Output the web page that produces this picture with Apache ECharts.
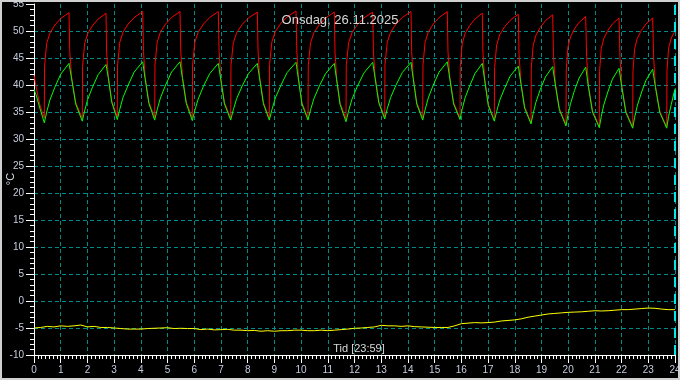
<!DOCTYPE html>
<html>
<head>
<meta charset="utf-8">
<style>
html,body{margin:0;padding:0;background:#000;}
#chart{width:680px;height:380px;}
</style>
<script src="https://cdn.jsdelivr.net/npm/echarts@6/dist/echarts.min.js"></script>
</head>
<body>
<div id="chart"></div>
<script>
// Tick labels / axis config values
var xTickLabels = [0,1,2,3,4,5,6,7,8,9,10,11,12,13,14,15,16,17,18,19,20,21,22,23,24];
var titleText = 'Onsdag, 26.11.2025';
var xName = 'Tid [23:59]';
var yName = '°C';

// Red series (supply temperature), [hour, °C]
var redTemp = [
[0,41.8],[0.1,39.1],[0.22,36.3],[0.386,33.9],
[0.396,43.5],[0.475,47.7],[0.594,49.6],[0.782,51.1],[1.0,52.3],[1.31,53.4],
[1.34,46.0],[1.41,41.4],[1.56,36.8],[1.808,33.8],
[1.818,43.4],[1.894,47.6],[2.008,49.5],[2.19,51.0],[2.4,52.2],[2.696,53.3],
[2.72,45.9],[2.78,41.7],[2.91,37.1],[3.119,34.1],
[3.129,43.7],[3.211,47.9],[3.333,49.8],[3.527,51.3],[3.751,52.5],[4.07,53.6],
[4.1,46.2],[4.16,41.5],[4.3,36.9],[4.519,33.9],
[4.529,43.7],[4.611,47.9],[4.733,49.8],[4.927,51.3],[5.151,52.5],[5.467,53.6],
[5.495,46.2],[5.56,41.5],[5.7,36.9],[5.927,33.9],
[5.937,43.7],[6.022,47.9],[6.148,49.8],[6.347,51.3],[6.578,52.5],[6.901,53.6],
[6.93,46.2],[6.99,41.4],[7.13,36.8],[7.365,33.8],
[7.375,43.6],[7.461,47.8],[7.59,49.7],[7.793,51.2],[8.028,52.4],[8.361,53.5],
[8.39,46.1],[8.45,41.4],[8.59,36.8],[8.81,33.8],
[8.82,43.8],[8.907,48.0],[9.036,49.9],[9.24,51.4],[9.477,52.6],[9.81,53.7],
[9.84,46.3],[9.9,41.4],[10.03,36.8],[10.259,33.8],
[10.269,43.6],[10.354,47.8],[10.482,49.7],[10.683,51.2],[10.916,52.4],[11.244,53.5],
[11.27,46.1],[11.33,41.3],[11.46,36.7],[11.682,33.7],
[11.692,43.6],[11.779,47.8],[11.908,49.7],[12.112,51.2],[12.349,52.4],[12.682,53.5],
[12.71,46.1],[12.77,41.6],[12.91,37.0],[13.131,34.0],
[13.141,43.7],[13.226,47.9],[13.354,49.8],[13.555,51.3],[13.788,52.5],[14.116,53.6],
[14.14,46.2],[14.2,41.4],[14.33,36.8],[14.554,33.8],
[14.564,43.7],[14.643,47.9],[14.762,49.8],[14.95,51.3],[15.168,52.5],[15.475,53.6],
[15.5,46.2],[15.57,41.4],[15.71,36.8],[15.95,33.8],
[15.96,43.4],[16.031,47.6],[16.139,49.5],[16.31,51.0],[16.508,52.2],[16.785,53.3],
[16.81,45.9],[16.875,41.1],[17.01,36.5],[17.235,33.5],
[17.245,43.2],[17.322,47.4],[17.438,49.3],[17.621,50.8],[17.834,52.0],[18.133,53.1],
[18.16,45.7],[18.23,40.6],[18.37,36.0],[18.609,33.0],
[18.619,43.1],[18.688,47.3],[18.792,49.2],[18.958,50.7],[19.15,51.9],[19.421,53.0],
[19.45,45.6],[19.52,40.3],[19.67,35.7],[19.919,32.7],
[19.929,42.8],[19.99,47.0],[20.086,48.9],[20.237,50.4],[20.411,51.6],[20.657,52.7],
[20.69,45.3],[20.76,39.9],[20.91,35.3],[21.166,32.3],
[21.176,42.5],[21.237,46.7],[21.333,48.6],[21.484,50.1],[21.658,51.3],[21.904,52.4],
[21.94,45.0],[22.01,39.8],[22.16,35.2],[22.416,32.2],
[22.426,42.5],[22.488,46.7],[22.585,48.6],[22.738,50.1],[22.915,51.3],[23.165,52.4],
[23.2,45.0],[23.27,39.8],[23.43,35.2],[23.69,32.2],
[23.7,42.6],[23.76,46.8],[23.86,48.7],[24,50.0]
];

// Green series (return temperature), [hour, °C]
var greenTemp = [
[0,39.2],[0.1,37.8],[0.22,35.7],[0.386,33.0],
[0.475,35.0],[0.594,37.2],[0.782,39.6],[1.0,42.0],[1.31,44.0],
[1.41,41.1],[1.56,36.5],[1.808,33.3],
[1.894,35.2],[2.008,37.3],[2.19,39.6],[2.4,41.9],[2.696,43.8],
[2.78,41.4],[2.91,36.8],[3.119,33.6],
[3.211,35.5],[3.333,37.7],[3.527,40.0],[3.751,42.4],[4.07,44.3],
[4.16,41.2],[4.3,36.6],[4.519,33.5],
[4.611,35.4],[4.733,37.6],[4.927,40.0],[5.151,42.4],[5.467,44.3],
[5.56,41.2],[5.7,36.6],[5.927,33.4],
[6.022,35.3],[6.148,37.4],[6.347,39.8],[6.578,42.1],[6.901,44.0],
[6.99,41.1],[7.13,36.5],[7.365,33.5],
[7.461,35.4],[7.59,37.5],[7.793,39.8],[8.028,42.1],[8.361,44.0],
[8.45,41.1],[8.59,36.5],[8.81,33.5],
[8.907,35.4],[9.036,37.6],[9.24,39.9],[9.477,42.3],[9.81,44.2],
[9.9,41.1],[10.03,36.5],[10.259,33.5],
[10.354,35.4],[10.482,37.5],[10.683,39.8],[10.916,42.1],[11.244,44.0],
[11.33,41.0],[11.46,36.4],[11.682,33.2],
[11.779,35.2],[11.908,37.4],[12.112,39.8],[12.349,42.2],[12.682,44.2],
[12.77,41.3],[12.91,36.7],[13.131,33.7],
[13.226,35.6],[13.354,37.7],[13.555,40.0],[13.788,42.3],[14.116,44.2],
[14.2,41.1],[14.33,36.5],[14.554,33.5],
[14.643,35.4],[14.762,37.6],[14.95,40.0],[15.168,42.4],[15.475,44.3],
[15.57,41.1],[15.71,36.5],[15.95,33.6],
[16.031,35.5],[16.139,37.6],[16.31,39.8],[16.508,42.1],[16.785,44.0],
[16.875,40.8],[17.01,36.2],[17.235,33.3],
[17.322,35.1],[17.438,37.2],[17.621,39.4],[17.834,41.7],[18.133,43.5],
[18.23,40.3],[18.37,35.7],[18.609,32.8],
[18.688,34.7],[18.792,36.8],[18.958,39.2],[19.15,41.5],[19.421,43.4],
[19.52,40.0],[19.67,35.4],[19.919,32.4],
[19.99,34.4],[20.086,36.5],[20.237,39.0],[20.411,41.3],[20.657,43.3],
[20.76,39.6],[20.91,35.0],[21.166,32.1],
[21.237,34.1],[21.333,36.3],[21.484,38.7],[21.658,41.1],[21.904,43.1],
[22.01,39.5],[22.16,34.9],[22.416,32.0],
[22.488,34.0],[22.585,36.1],[22.738,38.5],[22.915,40.9],[23.165,42.9],
[23.27,39.5],[23.43,34.9],[23.69,32.0],
[23.76,34.2],[23.86,36.4],[24,39.3]
];

// Yellow series (outdoor temperature), [hour, °C]
var outdoorTemp = [
[0,-5.0],[0.25,-4.9],[0.5,-4.7],[0.75,-4.8],[1.0,-4.6],[1.25,-4.7],[1.5,-4.6],[1.75,-4.45],
[2.0,-4.8],[2.25,-4.7],[2.5,-4.9],[2.75,-4.9],[3.0,-5.0],[3.25,-5.1],[3.5,-5.2],[3.75,-5.2],
[4.0,-5.2],[4.25,-5.1],[4.5,-5.05],[4.75,-5.0],[5.0,-4.95],[5.25,-5.1],[5.5,-5.05],[5.75,-5.1],
[6.0,-5.1],[6.25,-5.3],[6.5,-5.2],[6.75,-5.35],[7.0,-5.3],[7.25,-5.25],[7.5,-5.4],[7.75,-5.4],
[8.0,-5.5],[8.25,-5.45],[8.5,-5.6],[8.75,-5.5],[9.0,-5.6],[9.25,-5.5],[9.5,-5.5],[9.75,-5.4],
[10.0,-5.4],[10.25,-5.5],[10.5,-5.5],[10.75,-5.4],[11.0,-5.5],[11.25,-5.4],[11.5,-5.3],[11.75,-5.2],
[12.0,-5.05],[12.25,-5.0],[12.5,-4.9],[12.75,-4.8],[13.0,-4.5],[13.25,-4.6],[13.5,-4.6],[13.75,-4.7],
[14.0,-4.6],[14.25,-4.75],[14.5,-4.8],[14.75,-4.85],[15.0,-4.9],[15.25,-4.9],[15.5,-4.9],[15.75,-4.6],
[16.0,-4.2],[16.25,-4.1],[16.5,-4.0],[16.75,-4.05],[17.0,-4.0],[17.25,-3.9],[17.5,-3.7],[17.75,-3.6],
[18.0,-3.5],[18.25,-3.3],[18.5,-3.0],[18.75,-2.8],[19.0,-2.6],[19.25,-2.4],[19.5,-2.3],[19.75,-2.2],
[20.0,-2.1],[20.25,-2.05],[20.5,-2.0],[20.75,-1.9],[21.0,-1.8],[21.25,-1.85],[21.5,-1.8],[21.75,-1.7],
[22.0,-1.6],[22.25,-1.6],[22.5,-1.5],[22.75,-1.4],[23.0,-1.3],[23.25,-1.35],[23.5,-1.5],[23.75,-1.6],
[24.0,-1.6]
];

var chart = echarts.init(document.getElementById('chart'), null, {renderer:'canvas'});
var labelColor = '#c4ccdc';
var gridColor = '#008b8b';
var option = {
  backgroundColor: '#000000',
  animation: false,
  title: {
    text: titleText, left: 'center', top: 9,
    textStyle: {color:'#d8d8d8', fontSize:13, fontWeight:'normal', fontFamily:'Liberation Sans, Arial, sans-serif'}
  },
  grid: {left:34, right:5, top:4, bottom:25, containLabel:false, outerBoundsMode:'none'},
  xAxis: {
    type:'value', min:0, max:24, interval:1,
    axisLine:{show:true, onZero:false, lineStyle:{color:'#ffffff', width:1}},
    axisTick:{show:true, length:8, lineStyle:{color:'#ffffff'}},
    minorTick:{show:true, splitNumber:7, length:4, lineStyle:{color:'#ffffff'}},
    axisLabel:{color:labelColor, fontSize:10, margin:10, fontFamily:'Liberation Sans, Arial, sans-serif',
      formatter:function(v){ return xTickLabels.indexOf(v) >= 0 ? String(v) : ''; }},
    splitLine:{show:true, lineStyle:{color:gridColor, type:[4,3], width:1}}
  },
  yAxis: {
    type:'value', min:-10, max:55, interval:5,
    axisLine:{show:true, onZero:false, lineStyle:{color:'#ffffff', width:1}},
    axisTick:{show:true, length:8, lineStyle:{color:'#ffffff'}},
    minorTick:{show:true, splitNumber:5, length:4, lineStyle:{color:'#ffffff'}},
    axisLabel:{color:labelColor, fontSize:10, margin:10, fontFamily:'Liberation Sans, Arial, sans-serif'},
    splitLine:{show:true, showMaxLine:false, lineStyle:{color:gridColor, type:[4,3], width:1}}
  },
  graphic: [
    {type:'text', x:359, y:349, z:50,
     style:{text:xName, fill:'#d8d8d8', font:'11px "Liberation Sans", Arial, sans-serif', align:'center', verticalAlign:'middle', textAlign:'center', textVerticalAlign:'middle'}},
    {type:'text', x:11, y:179, z:50, rotation:Math.PI/2,
     style:{text:yName, fill:'#d8dce8', font:'11px "Liberation Sans", Arial, sans-serif', align:'center', verticalAlign:'middle', textAlign:'center', textVerticalAlign:'middle'}},
    {type:'rect', z:100, silent:true,
     shape:{x:1, y:1, width:678, height:378},
     style:{fill:'none', stroke:'#d0d0d0', lineWidth:2}}
  ],
  series: [
    {type:'line', name:'Ute', data:outdoorTemp, showSymbol:false, symbol:'none',
     lineStyle:{color:'#ffff00', width:1}, z:3,
     markLine:{silent:true, symbol:'none', label:{show:false},
       lineStyle:{color:'#00e8e8', type:[10,7], width:2}, data:[{xAxis:24}]}},
    {type:'line', name:'Tur', data:redTemp, showSymbol:false, symbol:'none',
     lineStyle:{color:'#ff0000', width:1}, z:4},
    {type:'line', name:'Retur', data:greenTemp, showSymbol:false, symbol:'none',
     lineStyle:{color:'#00ff00', width:1}, z:5}
  ]
};
chart.setOption(option);
</script>
</body>
</html>
